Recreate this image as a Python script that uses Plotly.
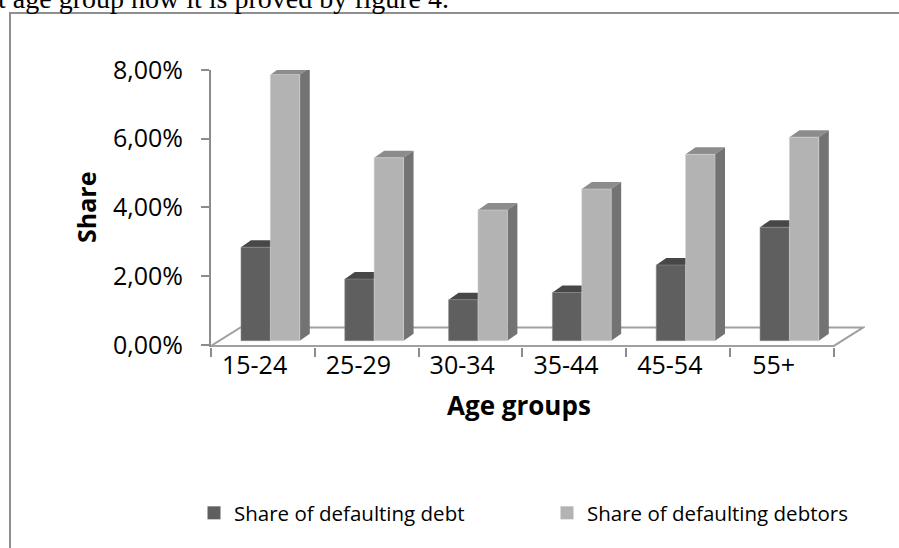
import plotly.graph_objects as go

# ---- data ----
categories = ["15-24", "25-29", "30-34", "35-44", "45-54", "55+"]
debt_share = [2.72, 1.79, 1.19, 1.40, 2.20, 3.30]        # Share of defaulting debt (%)
debtor_share = [7.74, 5.32, 3.80, 4.41, 5.42, 5.92]      # Share of defaulting debtors (%)
y_tickvals = [0, 2, 4, 6, 8]
y_ticktext = ["0,00%", "2,00%", "4,00%", "6,00%", "8,00%"]
series_names = ["Share of defaulting debt", "Share of defaulting debtors"]

# ---- layout constants ----
W, H = 899, 548
L, R, T, B = 211, 34, 70, 201
XR = [-0.5, 5.8]
YR = [-0.06, 8]
FONT = "Open Sans"

def px_x(p):
    return (p - L) / (W - L - R)

def px_y(p):
    return (H - B - p) / (H - T - B)

# 3D look parameters (in axis units)
ppu_x = (W - L - R) / (XR[1] - XR[0])
ppu_y = (H - T - B) / (YR[1] - YR[0])
DX = 10 / ppu_x
DY = 7 / ppu_y
BASE = 4.3 / ppu_y
FDX = 29.5 / ppu_x
FDY = 18.5 / ppu_y
WID = 0.283
OFF_D = -0.211
OFF_L = OFF_D + WID
LABEL_SHIFT = -0.08

DARK, DARK_TOP = "#5f5f5f", "#474747"
LIGHT, LIGHT_TOP, LIGHT_SIDE = "#b3b3b3", "#8c8c8c", "#737373"
AXIS = "#8c8c8c"

xs = list(range(len(categories)))

fig = go.Figure()
fig.add_trace(go.Bar(x=xs, y=debt_share, base=BASE, width=WID, offset=OFF_D,
                     marker=dict(color=DARK, line=dict(width=0.6, color="#8a8a8a")),
                     name=series_names[0], showlegend=False))
fig.add_trace(go.Bar(x=xs, y=debtor_share, base=BASE, width=WID, offset=OFF_L,
                     marker=dict(color=LIGHT, line=dict(width=0.6, color="#d0d0d0")),
                     name=series_names[1], showlegend=False))
# legend entries (one per legend box so each can be placed freely)
fig.add_trace(go.Scatter(x=[None], y=[None], mode="markers", name=series_names[0],
                         marker=dict(symbol="square", size=13, color=DARK), legend="legend"))
fig.add_trace(go.Scatter(x=[None], y=[None], mode="markers", name=series_names[1],
                         marker=dict(symbol="square", size=13, color=LIGHT), legend="legend2"))

shapes = []
# floor
f0 = -0.03
shapes.append(dict(type="path", xref="x", yref="y", layer="below",
                   path=f"M {XR[0]},{f0} L 5.5,{f0} L {5.5+FDX},{f0+FDY} L {XR[0]+FDX},{f0+FDY} Z",
                   line=dict(color="#a0a0a0", width=2), fillcolor="rgba(255,255,255,0)"))

def top_face(x0, top, color):
    x1 = x0 + WID
    return dict(type="path", xref="x", yref="y", layer="below",
                path=f"M {x0},{top} L {x1},{top} L {x1+DX},{top+DY} L {x0+DX},{top+DY} Z",
                line=dict(width=0), fillcolor=color)

for i, (vd, vl) in enumerate(zip(debt_share, debtor_share)):
    xd = i + OFF_D
    xl = i + OFF_L
    shapes.append(top_face(xd, BASE + vd, DARK_TOP))
    shapes.append(top_face(xl, BASE + vl, LIGHT_TOP))
    x1 = xl + WID
    topl = BASE + vl
    shapes.append(dict(type="path", xref="x", yref="y", layer="below",
                       path=f"M {x1},{BASE} L {x1},{topl} L {x1+DX},{topl+DY} L {x1+DX},{BASE+DY} Z",
                       line=dict(width=0), fillcolor=LIGHT_SIDE))

# chart border
shapes.append(dict(type="rect", xref="paper", yref="paper",
                   x0=px_x(10), x1=px_x(925), y0=px_y(560), y1=px_y(13),
                   line=dict(color="#8f8f8f", width=2), layer="below"))

annotations = [
    dict(text="Share", textangle=-90, xref="paper", yref="paper",
         x=px_x(86), y=px_y(208), xanchor="center", yanchor="middle", showarrow=False,
         font=dict(family=FONT, size=25, color="black", weight="bold")),
    dict(text="Age groups", xref="paper", yref="paper",
         x=px_x(519), y=px_y(405), xanchor="center", yanchor="middle", showarrow=False,
         font=dict(family=FONT, size=26, color="black", weight="bold")),
    dict(text="t age group how it is proved by figure 4.", xref="paper", yref="paper",
         x=px_x(-4), y=px_y(16), xanchor="left", yanchor="bottom", showarrow=False,
         font=dict(family="Liberation Serif", size=28, color="black")),
]

legend_style = dict(orientation="h", xanchor="left", yanchor="middle", y=px_y(513),
                    font=dict(family=FONT, size=20.5, color="black"),
                    bgcolor="rgba(0,0,0,0)")

fig.update_layout(
    width=W, height=H, margin=dict(l=L, r=R, t=T, b=B),
    paper_bgcolor="white", plot_bgcolor="rgba(0,0,0,0)",
    barmode="overlay", shapes=shapes, annotations=annotations,
    font=dict(family=FONT, size=25, color="black"),
    legend=dict(x=px_x(194), **legend_style),
    legend2=dict(x=px_x(547), **legend_style),
    xaxis=dict(range=XR, tickvals=[x + LABEL_SHIFT for x in xs], ticktext=categories,
               ticks="", showline=False,
               showgrid=False, zeroline=False, ticklabelstandoff=1,
               tickfont=dict(family=FONT, size=25, color="black"),
               minor=dict(tickvals=[i - 0.5 for i in range(len(categories) + 1)],
                          ticks="outside", ticklen=9, tickcolor=AXIS, tickwidth=2, showgrid=False)),
    yaxis=dict(range=YR, tickvals=y_tickvals, ticktext=y_ticktext, ticks="outside",
               ticklen=8, tickcolor=AXIS, tickwidth=2, showline=True, linecolor=AXIS,
               linewidth=2, showgrid=False, zeroline=False, ticklabelstandoff=13,
               tickfont=dict(family=FONT, size=25, color="black")),
)

fig.write_html("out.html")
